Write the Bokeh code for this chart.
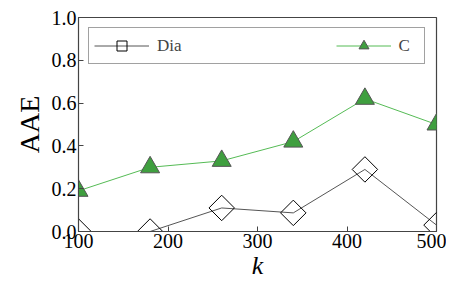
import numpy as np
from bokeh.plotting import figure
from bokeh.models import Legend, LegendItem, Range1d, FixedTicker, CustomJSTickFormatter
from bokeh.embed import file_html
from bokeh.resources import INLINE

k_values = [100, 180, 260, 340, 420, 500]
dia_values = [0.0, 0.0, 0.11, 0.087, 0.29, 0.03]
c_values = [0.19, 0.30, 0.33, 0.42, 0.62, 0.50]
x_ticks = [100, 200, 300, 400, 500]
y_ticks = [0.0, 0.2, 0.4, 0.6, 0.8, 1.0]

SERIF = "Liberation Serif"

p = figure(width=446, height=282, output_backend="svg", toolbar_location=None,
           x_range=Range1d(100, 500), y_range=Range1d(0, 1.0),
           min_border_left=78, min_border_right=10, min_border_top=17, min_border_bottom=47)
p.grid.visible = False
p.outline_line_color = "#444444"
p.outline_line_width = 1.2

for ax in (p.xaxis[0], p.yaxis[0]):
    ax.major_label_text_font = SERIF
    ax.major_label_text_font_size = "20px"
    ax.major_label_text_color = "black"
    ax.axis_line_color = "#444444"
    ax.major_tick_line_color = "#444444"
    ax.major_tick_in = 5
    ax.major_tick_out = 0
    ax.minor_tick_line_color = None
    ax.axis_label_text_font = SERIF
    ax.axis_label_text_font_style = "normal"
    ax.axis_label_text_color = "black"

p.xaxis.ticker = FixedTicker(ticks=x_ticks)
p.yaxis.ticker = FixedTicker(ticks=y_ticks)
p.yaxis.formatter = CustomJSTickFormatter(code="return tick.toFixed(1);")
p.xaxis.major_label_standoff = 2
p.yaxis.major_label_standoff = 2
p.xaxis.axis_label = "k"
p.xaxis.axis_label_text_font_style = "italic"
p.xaxis.axis_label_text_font_size = "26px"
p.xaxis.axis_label_standoff = 0
p.yaxis.axis_label = "AAE"
p.yaxis.axis_label_text_font_size = "28px"
p.yaxis.axis_label_standoff = 4

dia_line = p.line(k_values, dia_values, line_color="#555555", line_width=1)
dia_mk = p.scatter(k_values, dia_values, marker="square", angle=np.pi / 4, size=18,
                   fill_color="white", fill_alpha=0.0, line_color="black", line_width=1)

c_line = p.line(k_values, c_values, line_color="#55bb55", line_width=1)
c_mk = p.scatter(k_values, c_values, marker="triangle", size=19,
                 fill_color="#3f9f3f", line_color="#555555", line_width=1)

legend = Legend(items=[LegendItem(label="Dia", renderers=[dia_line, dia_mk]),
                       LegendItem(label="C", renderers=[c_line, c_mk])],
                orientation="horizontal", location="top_left",
                label_text_font=SERIF, label_text_font_size="17px",
                glyph_width=55, glyph_height=25, label_standoff=8,
                spacing=154, padding=5, margin=10,
                border_line_color="#444444", border_line_width=1.2,
                background_fill_alpha=1.0)
p.add_layout(legend, "center")

open("out.html", "w").write(file_html(p, INLINE))
